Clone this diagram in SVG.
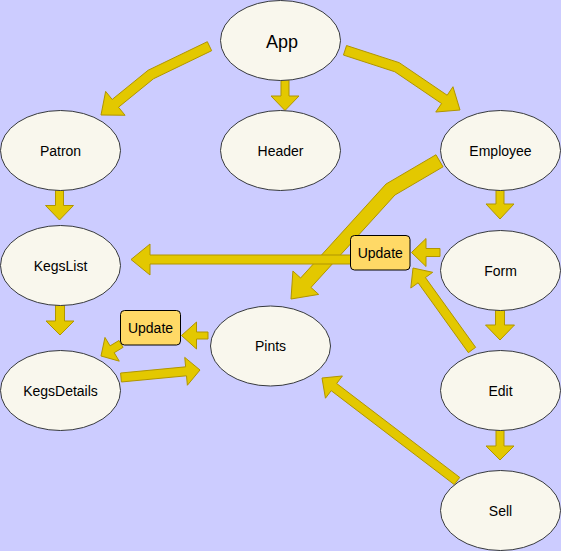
<svg xmlns="http://www.w3.org/2000/svg" width="561" height="551" viewBox="0 0 561 551">
<style>
.bg{fill:#CCCCFF}
.node ellipse{fill:#F9F7ED;stroke:#36393D;stroke-width:1}
.node text,.lbl text{font-family:"Liberation Sans",Arial,sans-serif;font-size:14px;fill:#000;text-anchor:middle}
.big{font-size:18px !important}
.arr polygon{fill:#E3C800;stroke:#B09500;stroke-width:1;stroke-linejoin:miter}
.lbl rect{fill:#FFD966;stroke:#000;stroke-width:1}
</style>
<rect class="bg" x="0" y="0" width="561" height="551"/>
<g id="connectors" class="arr">
<polygon id="e-app-patron" points="207.33,41.70 148.10,70.25 112.20,99.45 105.63,91.38 101,115 125.07,115.28 118.50,107.21 153.50,78.75 211.67,50.70"/>
<polygon id="e-app-header" points="281,80 281,96 271,96 285,110.5 299,96 289,96 289,80"/>
<polygon id="e-app-employee" points="343.45,55.06 394.78,71.74 441.56,103.52 435.77,112.04 460,110 452.97,86.72 447.18,95.24 399.22,62.67 346.55,45.54"/>
<polygon id="e-patron-kegslist" points="55.5,190 55.5,205.5 45.5,205.5 59.5,220 73.5,205.5 63.5,205.5 63.5,190"/>
<polygon id="e-employee-pints" points="435.96,154.76 386.04,184.00 300.62,278.01 292.92,271.02 291,299 318.68,294.42 310.98,287.43 394.96,195.00 443.04,166.84"/>
<polygon id="e-employee-form" points="496,190 496,204 486,204 500,219 514,204 504,204 504,190"/>
<polygon id="e-form-update" points="440,248.5 426,248.5 426,238.5 411.5,252.5 426,266.5 426,256.5 440,256.5"/>
<polygon id="e-update-kegslist" points="350.5,255 150,255 150,244 131,259.5 150,275 150,264 350.5,264"/>
<polygon id="e-kegslist-kegsdetails" points="55.5,305 55.5,321 46,321 60,335 74,321 64.5,321 64.5,305"/>
<polygon id="e-form-edit" points="495.5,310 495.5,325 485.5,325 500,340 514.5,325 504.5,325 504.5,310"/>
<polygon id="e-edit-update" points="475.65,347.37 425.41,277.55 432.72,272.30 413,268 410.80,288.06 418.11,282.81 468.35,352.63"/>
<polygon id="e-pints-update2" points="208,332 196.5,332 196.5,322 181.5,335.5 196.5,349 196.5,339 208,339"/>
<polygon id="e-update2-kegsdetails" points="118.97,340.50 110.07,345.87 104.98,337.43 101,356 119.28,361.15 114.19,352.71 123.09,347.34"/>
<polygon id="e-kegsdetails-pints" points="121.43,381.98 186.49,375.80 187.38,385.26 200,370 184.74,357.38 185.63,366.84 120.57,373.02"/>
<polygon id="e-edit-sell" points="496,430 496,446 486,446 500,460 514,446 504,446 504,430"/>
<polygon id="e-sell-pints" points="459.73,477.42 336.66,383.52 342.42,375.97 322,378 325.44,398.23 331.20,390.68 454.27,484.58"/>
</g>
<g id="app" class="node"><ellipse cx="280.5" cy="40.5" rx="60" ry="40"/><text class="big" x="282" y="48">App</text></g>
<g id="patron" class="node"><ellipse cx="60.5" cy="150.5" rx="60" ry="40"/><text x="60.5" y="156">Patron</text></g>
<g id="header" class="node"><ellipse cx="280.5" cy="150.5" rx="60" ry="40"/><text x="280.5" y="156">Header</text></g>
<g id="employee" class="node"><ellipse cx="500.5" cy="150.5" rx="60" ry="40"/><text x="500.5" y="156">Employee</text></g>
<g id="kegslist" class="node"><ellipse cx="60.5" cy="265.5" rx="60" ry="40"/><text x="60.5" y="271">KegsList</text></g>
<g id="form" class="node"><ellipse cx="500.5" cy="270.5" rx="60" ry="40"/><text x="500.5" y="276">Form</text></g>
<g id="pints" class="node"><ellipse cx="270.5" cy="346" rx="60" ry="40"/><text x="270.5" y="351">Pints</text></g>
<g id="kegsdetails" class="node"><ellipse cx="60.5" cy="390.5" rx="60" ry="40"/><text x="60.5" y="396">KegsDetails</text></g>
<g id="edit" class="node"><ellipse cx="500.5" cy="390.5" rx="60" ry="40"/><text x="500.5" y="396">Edit</text></g>
<g id="sell" class="node"><ellipse cx="500.5" cy="510.5" rx="60" ry="40"/><text x="500.5" y="516">Sell</text></g>
<g id="update1" class="lbl"><rect x="350.5" y="235.5" width="59.5" height="34.5" rx="4"/><text x="380.25" y="258">Update</text></g>
<g id="update2" class="lbl"><rect x="120.5" y="310.5" width="60" height="34.5" rx="4"/><text x="150.5" y="333">Update</text></g>
</svg>
